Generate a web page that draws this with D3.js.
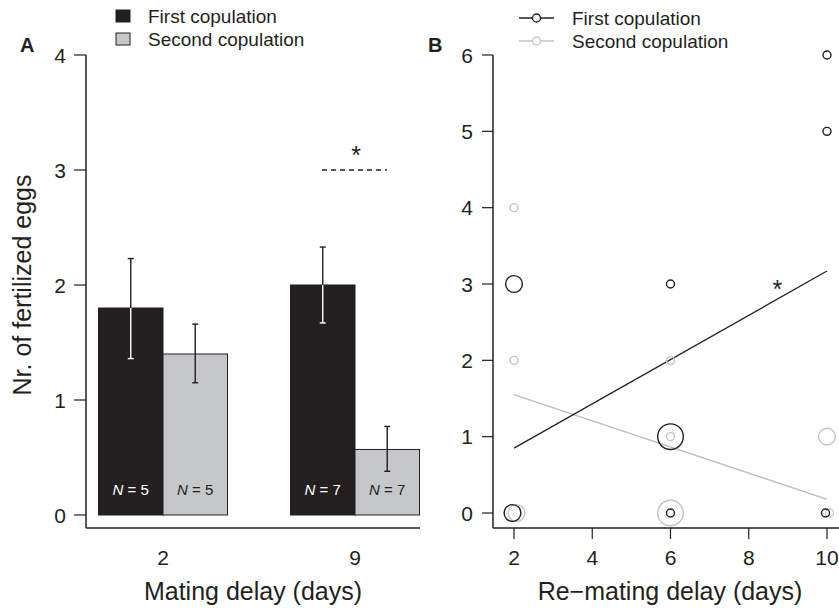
<!DOCTYPE html>
<html>
  <head>
    <meta charset="utf-8">
    <script src="https://cdn.jsdelivr.net/npm/d3@7/dist/d3.min.js"></script>
    <style>
      body { margin: 0; background: white; }
      svg { font-family: 'Liberation Sans', Arial, sans-serif; }
    </style>
  </head>
  <body>
    <script>
      // panel A data
      const delays = ['2', '9']
      const series = ['First copulation', 'Second copulation']
      const means = [[1.8, 1.4], [2.0, 0.57]]
      const errLow = [[1.36, 1.15], [1.67, 0.38]]
      const errHigh = [[2.23, 1.66], [2.33, 0.77]]
      const sampleN = [[5, 5], [7, 7]]
      const ticksA = [0, 1, 2, 3, 4]

      // panel B data: [delay, eggs, count]
      const firstPts = [[2, 3, 2], [2, 0, 2], [6, 3, 1], [6, 1, 3], [6, 0, 1], [10, 6, 1], [10, 5, 1], [10, 0, 1]]
      const secondPts = [[2, 4, 1], [2, 2, 1], [2, 0, 2], [6, 2, 1], [6, 1, 1], [6, 0, 3], [10, 1, 2], [10, 0, 1]]
      const firstFit = [[2, 0.85], [10, 3.17]]
      const secondFit = [[2, 1.55], [10, 0.18]]
      const ticksBx = [2, 4, 6, 8, 10]
      const ticksBy = [0, 1, 2, 3, 4, 5, 6]

      const W = 839, H = 609
      const svg = d3.select('body').append('svg').attr('width', W).attr('height', H)
      const ink = '#231f20'
      const grey = '#c6c7c9'
      const tickFont = 21
      const titleFont = 25
      const legFont = 19

      // ---------- panel A ----------
      const yA = d3.scaleLinear().domain([0, 4]).range([515, 55])
      const xA = d3.scalePoint().domain(delays).range([163, 355])
      const sub = d3.scaleBand().domain(series).range([-64.5, 64.5])
      const gA = svg.append('g')

      gA.append('line').attr('x1', 86).attr('x2', 86).attr('y1', 55).attr('y2', 528).attr('stroke', ink).attr('stroke-width', 1.5)
      gA.append('line').attr('x1', 86).attr('x2', 420).attr('y1', 528).attr('y2', 528).attr('stroke', ink).attr('stroke-width', 1.5)
      ticksA.forEach(t => {
        gA.append('line').attr('x1', 74).attr('x2', 86).attr('y1', yA(t)).attr('y2', yA(t)).attr('stroke', ink).attr('stroke-width', 1.2)
        gA.append('text').attr('x', 66).attr('y', yA(t)).attr('dy', '0.36em').attr('text-anchor', 'end')
          .attr('font-size', tickFont).attr('fill', ink).text(t)
      })
      delays.forEach(d => {
        gA.append('text').attr('x', xA(d)).attr('y', 565).attr('text-anchor', 'middle')
          .attr('font-size', tickFont).attr('fill', ink).text(d)
      })

      delays.forEach((d, i) => {
        series.forEach((s, j) => {
          const x0 = xA(d) + sub(s)
          const bw = sub.bandwidth()
          gA.append('rect').attr('x', x0).attr('y', yA(means[i][j]))
            .attr('width', bw).attr('height', yA(0) - yA(means[i][j]))
            .attr('fill', j === 0 ? ink : grey).attr('stroke', ink).attr('stroke-width', 1)
          const cx = x0 + bw / 2
          const top = yA(errHigh[i][j]), bot = yA(errLow[i][j]), barTop = yA(means[i][j])
          const col = j === 0 ? 'white' : ink
          // error bar: dark above the bar, white inside the black bars
          gA.append('line').attr('x1', cx).attr('x2', cx).attr('y1', top).attr('y2', j === 0 ? barTop : bot)
            .attr('stroke', ink).attr('stroke-width', 1.4)
          gA.append('line').attr('x1', cx - 3).attr('x2', cx + 3).attr('y1', top).attr('y2', top)
            .attr('stroke', ink).attr('stroke-width', 1.4)
          if (j === 0) {
            gA.append('line').attr('x1', cx).attr('x2', cx).attr('y1', barTop).attr('y2', bot)
              .attr('stroke', col).attr('stroke-width', 1.4)
          }
          gA.append('line').attr('x1', cx - 3).attr('x2', cx + 3).attr('y1', bot).attr('y2', bot)
            .attr('stroke', col).attr('stroke-width', 1.4)
          const lab = gA.append('text').attr('x', cx).attr('y', 495).attr('text-anchor', 'middle')
            .attr('font-size', 15).attr('fill', j === 0 ? 'white' : ink)
          lab.append('tspan').attr('font-style', 'italic').text('N')
          lab.append('tspan').text(' = ' + sampleN[i][j])
        })
      })

      // significance marker for delay 9
      gA.append('line').attr('x1', xA('9') - 33).attr('x2', xA('9') + 32).attr('y1', yA(3)).attr('y2', yA(3))
        .attr('stroke', ink).attr('stroke-width', 1.3).attr('stroke-dasharray', '5,4')
      gA.append('text').attr('x', xA('9') + 1).attr('y', yA(3) - 6).attr('text-anchor', 'middle')
        .attr('font-size', 25).attr('fill', ink).text('*')

      gA.append('text').attr('transform', 'translate(31,285) rotate(-90)').attr('text-anchor', 'middle')
        .attr('font-size', titleFont).attr('fill', ink).text('Nr. of fertilized eggs')
      gA.append('text').attr('x', 253).attr('y', 600).attr('text-anchor', 'middle')
        .attr('font-size', titleFont).attr('fill', ink).text('Mating delay (days)')
      gA.append('text').attr('x', 20).attr('y', 52).attr('font-size', 20).attr('font-weight', 'bold')
        .attr('fill', ink).text('A')

      series.forEach((s, j) => {
        const y = 16 + j * 23
        gA.append('rect').attr('x', 116).attr('y', y - 6).attr('width', 14).attr('height', 12)
          .attr('fill', j === 0 ? ink : grey).attr('stroke', ink).attr('stroke-width', 1)
        gA.append('text').attr('x', 148).attr('y', y).attr('dy', '0.36em')
          .attr('font-size', legFont).attr('fill', ink).text(s)
      })

      // ---------- panel B ----------
      const xB = d3.scaleLinear().domain([2, 10]).range([514, 827])
      const yB = d3.scaleLinear().domain([0, 6]).range([513, 55])
      const rB = c => 4.4 * c - 0.4
      const gB = svg.append('g')

      gB.append('line').attr('x1', 493).attr('x2', 493).attr('y1', 55).attr('y2', 528).attr('stroke', ink).attr('stroke-width', 1.5)
      gB.append('line').attr('x1', 493).attr('x2', 839).attr('y1', 528).attr('y2', 528).attr('stroke', ink).attr('stroke-width', 1.5)
      ticksBy.forEach(t => {
        gB.append('line').attr('x1', 482).attr('x2', 493).attr('y1', yB(t)).attr('y2', yB(t)).attr('stroke', ink).attr('stroke-width', 1.2)
        gB.append('text').attr('x', 473).attr('y', yB(t)).attr('dy', '0.36em').attr('text-anchor', 'end')
          .attr('font-size', tickFont).attr('fill', ink).text(t)
      })
      ticksBx.forEach(t => {
        gB.append('line').attr('x1', xB(t)).attr('x2', xB(t)).attr('y1', 528).attr('y2', 539).attr('stroke', ink).attr('stroke-width', 1.2)
        gB.append('text').attr('x', xB(t)).attr('y', 565).attr('text-anchor', 'middle')
          .attr('font-size', tickFont).attr('fill', ink).text(t)
      })

      const lineB = d3.line().x(d => xB(d[0])).y(d => yB(d[1]))
      gB.append('path').attr('d', lineB(secondFit)).attr('fill', 'none').attr('stroke', '#bdbdbd').attr('stroke-width', 1.3)
      gB.append('path').attr('d', lineB(firstFit)).attr('fill', 'none').attr('stroke', ink).attr('stroke-width', 1.3)

      gB.selectAll('.p2').data(secondPts).join('circle')
        .attr('cx', d => xB(d[0]) + (d[1] === 0 && d[0] !== 6 ? 2.5 : 0)).attr('cy', d => yB(d[1]))
        .attr('r', d => rB(d[2])).attr('fill', 'none').attr('stroke', '#c4c4c4').attr('stroke-width', 1.4)
      gB.selectAll('.p1').data(firstPts).join('circle')
        .attr('cx', d => xB(d[0]) - (d[1] === 0 && d[0] !== 6 ? 1.5 : 0)).attr('cy', d => yB(d[1]))
        .attr('r', d => rB(d[2])).attr('fill', 'none').attr('stroke', ink).attr('stroke-width', 1.4)

      gB.append('text').attr('x', xB(8.73)).attr('y', yB(3) + 14).attr('text-anchor', 'middle')
        .attr('font-size', 25).attr('fill', ink).text('*')

      gB.append('text').attr('x', 670).attr('y', 600).attr('text-anchor', 'middle')
        .attr('font-size', titleFont).attr('fill', ink).text('Re\u2212mating delay (days)')
      gB.append('text').attr('x', 428).attr('y', 52).attr('font-size', 20).attr('font-weight', 'bold')
        .attr('fill', ink).text('B')

      const legCols = [ink, '#c4c4c4']
      series.forEach((s, j) => {
        const y = 18 + j * 23
        gB.append('line').attr('x1', 519).attr('x2', 554).attr('y1', y).attr('y2', y)
          .attr('stroke', legCols[j]).attr('stroke-width', 1.3)
        gB.append('circle').attr('cx', 536.5).attr('cy', y).attr('r', 4)
          .attr('fill', 'white').attr('stroke', legCols[j]).attr('stroke-width', 1.3)
        gB.append('text').attr('x', 572).attr('y', y).attr('dy', '0.36em')
          .attr('font-size', legFont).attr('fill', ink).text(s)
      })
    </script>
  </body>
</html>
